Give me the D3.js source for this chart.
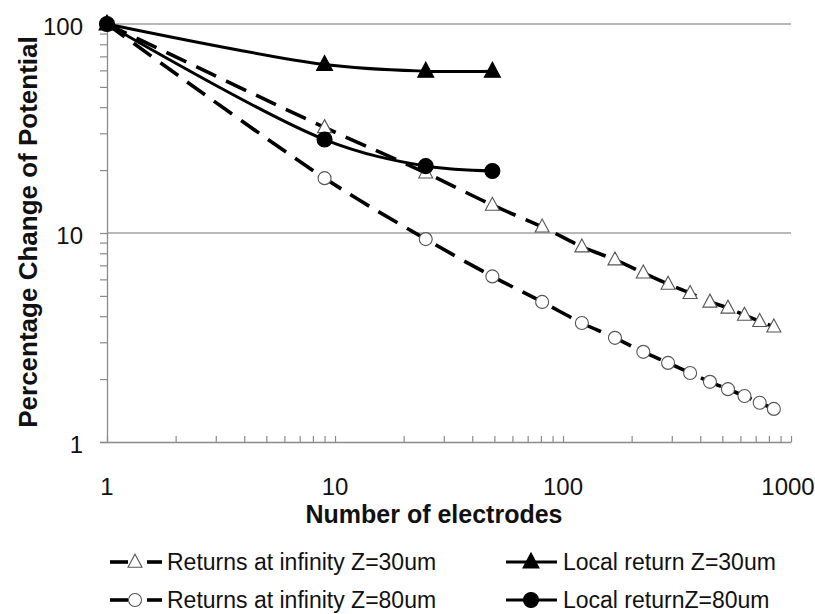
<!DOCTYPE html>
<html><head><meta charset="utf-8">
<script src="https://cdn.jsdelivr.net/npm/d3@7"></script>
<style>body{margin:0;background:#fff}svg{display:block}text{font-family:"Liberation Sans",Arial,sans-serif}</style>
</head><body>
<svg id="c" width="815" height="614"></svg>
<script>
const electrodes = [1, 9, 25, 49, 81, 121, 169, 225, 289, 361, 441, 529, 625, 729, 841];
const infZ30 = [100, 32, 19.4, 13.6, 10.7, 8.6, 7.45, 6.45, 5.7, 5.15, 4.68, 4.38, 4.05, 3.78, 3.56];
const infZ80 = [100, 18.3, 9.35, 6.2, 4.68, 3.71, 3.15, 2.7, 2.39, 2.14, 1.94, 1.79, 1.66, 1.54, 1.44];
const localElectrodes = [1, 9, 25, 49];
const localZ30 = [100, 64, 59.5, 59.5];
const localZ80 = [100, 28, 20.9, 19.8];
const xTicks = [1, 10, 100, 1000];
const yTicks = [1, 10, 100];
const seriesNames = ["Returns at infinity Z=30um", "Returns at infinity Z=80um", "Local return Z=30um", "Local returnZ=80um"];

const svg = d3.select("#c");
const x = d3.scaleLog().domain([1, 1000]).range([107, 791]);
const y = d3.scaleLog().domain([1, 100]).range([442, 24]);
const axisCol = "#8a8a8a";

// gridlines
svg.append("g").selectAll("line").data([10, 100]).join("line")
  .attr("x1", 107).attr("x2", 791).attr("y1", d => y(d)).attr("y2", d => y(d))
  .attr("stroke", "#a0a0a0").attr("stroke-width", 1.3);

// y axis (ticks outward to the left)
const yMinor = [];
for (let dec = 1; dec < 100; dec *= 10) for (let k = 2; k <= 9; k++) yMinor.push(dec * k);
const yAx = svg.append("g").attr("transform", "translate(107,0)")
  .call(d3.axisLeft(y).tickValues(yTicks.concat(yMinor)).tickSize(7).tickFormat(""));
yAx.select(".domain").attr("stroke", axisCol).attr("stroke-width", 1.3);
yAx.selectAll(".tick line").attr("stroke", axisCol).attr("stroke-width", 1.2);

// x axis (ticks inward, upward)
const xMinor = [];
for (let dec = 1; dec < 1000; dec *= 10) for (let k = 2; k <= 9; k++) xMinor.push(dec * k);
const xAx = svg.append("g").attr("transform", "translate(0,442)")
  .call(d3.axisTop(x).tickValues(xTicks.concat(xMinor)).tickSize(6).tickSizeOuter(0).tickFormat(""));
xAx.select(".domain").attr("stroke", axisCol).attr("stroke-width", 1.3);
xAx.selectAll(".tick line").attr("stroke", axisCol).attr("stroke-width", 1.2);

// tick labels
svg.append("g").selectAll("text").data(yTicks).join("text")
  .attr("x", 83).attr("y", d => y(d) + 11).attr("text-anchor", "end")
  .attr("font-size", 24).attr("fill", "#111").text(d => d);
svg.append("g").selectAll("text").data(xTicks).join("text")
  .attr("x", d => x(d) - (d === 1000 ? 3 : 0)).attr("y", 495).attr("text-anchor", "middle")
  .attr("font-size", 24).attr("fill", "#111").text(d => d);

// titles
svg.append("text").attr("x", 434).attr("y", 523).attr("text-anchor", "middle")
  .attr("font-size", 25).attr("font-weight", "bold").attr("fill", "#111").text("Number of electrodes");
svg.append("text").attr("transform", "translate(37,232) rotate(-90)").attr("text-anchor", "middle")
  .attr("font-size", 26).attr("font-weight", "bold").attr("fill", "#111").text("Percentage Change of Potential");

const curve = d3.curveCatmullRom.alpha(0.5);
const line = d3.line().x(d => x(d[0])).y(d => y(d[1])).curve(curve);
const zip = (xs, ys) => xs.map((v, i) => [v, ys[i]]);

const series = [
  {data: zip(electrodes, infZ30), dash: "22,11", marker: "triangle", fill: "#fff"},
  {data: zip(electrodes, infZ80), dash: "22,11", marker: "circle", fill: "#fff"},
  {data: zip(localElectrodes, localZ30), dash: null, marker: "triangle", fill: "#000"},
  {data: zip(localElectrodes, localZ80), dash: null, marker: "circle", fill: "#000"}
];

function drawMarker(g, type, fill, cx, cy) {
  const open = fill === "#fff";
  if (type === "triangle") {
    const w = open ? 14 : 16, h = open ? 13 : 15;
    g.append("path").attr("d", `M${cx},${cy - h * 0.6}L${cx + w / 2},${cy + h * 0.4}L${cx - w / 2},${cy + h * 0.4}Z`)
      .attr("fill", fill).attr("stroke", open ? "#555" : "#000").attr("stroke-width", 1.1);
  } else {
    g.append("circle").attr("cx", cx).attr("cy", cy).attr("r", open ? 6.5 : 7.5)
      .attr("fill", fill).attr("stroke", open ? "#555" : "#000").attr("stroke-width", 1.1);
  }
}

const plot = svg.append("g");
series.forEach(s => {
  const p = plot.append("path").attr("d", line(s.data)).attr("fill", "none")
    .attr("stroke", "#000").attr("stroke-width", s.dash ? 3.6 : 3);
  if (s.dash) p.attr("stroke-dasharray", s.dash);
});
series.forEach(s => {
  const g = plot.append("g");
  s.data.forEach(d => drawMarker(g, s.marker, s.fill, x(d[0]), y(d[1])));
});

// legend
const legPos = [[110, 562], [110, 600], [506, 562], [506, 600]];
series.forEach((s, i) => {
  const [lx, ly] = legPos[i];
  const g = svg.append("g");
  if (s.dash) {
    g.append("line").attr("x1", lx).attr("x2", lx + 18).attr("y1", ly).attr("y2", ly).attr("stroke", "#000").attr("stroke-width", 3.6);
    g.append("line").attr("x1", lx + 37).attr("x2", lx + 52).attr("y1", ly).attr("y2", ly).attr("stroke", "#000").attr("stroke-width", 3.6);
    drawMarker(g, s.marker, s.fill, lx + 25, ly);
  } else {
    g.append("line").attr("x1", lx).attr("x2", lx + 51).attr("y1", ly).attr("y2", ly).attr("stroke", "#000").attr("stroke-width", 3);
    drawMarker(g, s.marker, s.fill, lx + 25, ly);
  }
  g.append("text").attr("x", lx + 57).attr("y", ly + 8)
    .attr("font-size", 23).attr("fill", "#111").text(seriesNames[i]);
});
</script>
</body></html>
